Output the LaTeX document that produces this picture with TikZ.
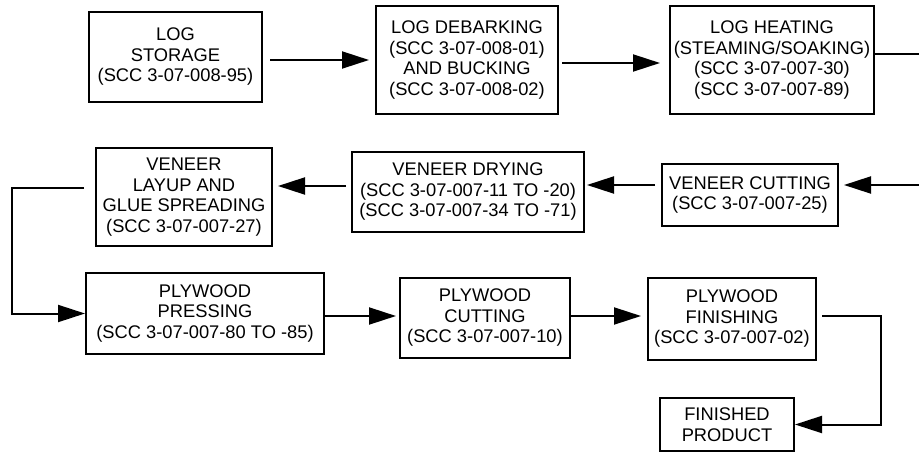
\documentclass[tikz,border=0pt]{standalone}
\usepackage{fontspec}
\setmainfont{Liberation Sans}
\usetikzlibrary{arrows.meta}
\begin{document}
\begin{tikzpicture}[x=1pt,y=-1pt,
  box/.style={draw,line width=2pt,align=center,inner sep=0pt,font=\fontsize{18.3}{20.5}\selectfont},
  flow/.style={line width=2pt,-{Triangle[length=27pt,width=17pt]}}]
  \useasboundingbox (0,0) rectangle (919,452);
  \clip (0,0) rectangle (919,452);
  \node[box,minimum width=173pt,minimum height=90pt](storage) at (175.5,57){LOG\\STORAGE\\(SCC 3-07-008-95)};
  \node[box,minimum width=182pt,minimum height=108pt](debark) at (467,60){LOG DEBARKING\\(SCC 3-07-008-01)\\AND BUCKING\\(SCC 3-07-008-02)};
  \node[box,minimum width=204pt,minimum height=108pt](heat) at (772,60){LOG HEATING\\(STEAMING/SOAKING)\\(SCC 3-07-007-30)\\(SCC 3-07-007-89)};
  \node[box,minimum width=176pt,minimum height=62pt](vcut) at (750,195){VENEER CUTTING\\(SCC 3-07-007-25)};
  \node[box,minimum width=232pt,minimum height=80pt](vdry) at (468,192){VENEER DRYING\\(SCC 3-07-007-11 TO -20)\\(SCC 3-07-007-34 TO -71)};
  \node[box,minimum width=176pt,minimum height=98pt](layup) at (184,197){VENEER\\LAYUP AND\\GLUE SPREADING\\(SCC 3-07-007-27)};
  \node[box,minimum width=238pt,minimum height=81pt](press) at (205,313.5){PLYWOOD\\PRESSING\\(SCC 3-07-007-80 TO -85)};
  \node[box,minimum width=170pt,minimum height=80pt](pcut) at (485,318){PLYWOOD\\CUTTING\\(SCC 3-07-007-10)};
  \node[box,minimum width=168pt,minimum height=82pt](finish) at (732,319){PLYWOOD\\FINISHING\\(SCC 3-07-007-02)};
  \node[box,minimum width=134pt,minimum height=53pt](product) at (727,424.5){FINISHED\\PRODUCT};
  \coordinate (turn) at (12,188);
  \draw[flow,shorten <=7pt,shorten >=6pt](storage.east |- debark.west)--(debark.west);
  \draw[flow,shorten <=3pt,shorten >=9pt]([yshift=-3pt]debark.east)--([yshift=-3pt]heat.west);
  \draw[flow,shorten >=5pt]([yshift=6pt]heat.east)--++(60,0)|-([yshift=10pt]vcut.east);
  \draw[flow,shorten <=6pt,shorten >=2pt]([yshift=10pt]vcut.west)--([yshift=10pt]vcut.west -| vdry.east);
  \draw[flow,shorten <=5pt,shorten >=5pt]([yshift=6pt]vdry.west)--([yshift=6pt]vdry.west -| layup.east);
  \draw[flow]([xshift=-11pt]layup.west |- turn)--(turn)|-(press.west);
  \draw[flow,shorten >=3pt]([yshift=2pt]pcut.west -| press.east)--([yshift=2pt]pcut.west);
  \draw[flow,shorten >=6pt]([yshift=2pt]pcut.east)--([yshift=2pt]pcut.east -| finish.west);
  \draw[flow]([shift={(5pt,3pt)}]finish.east)--++(59,0)|-(product.east);
\end{tikzpicture}
\end{document}
